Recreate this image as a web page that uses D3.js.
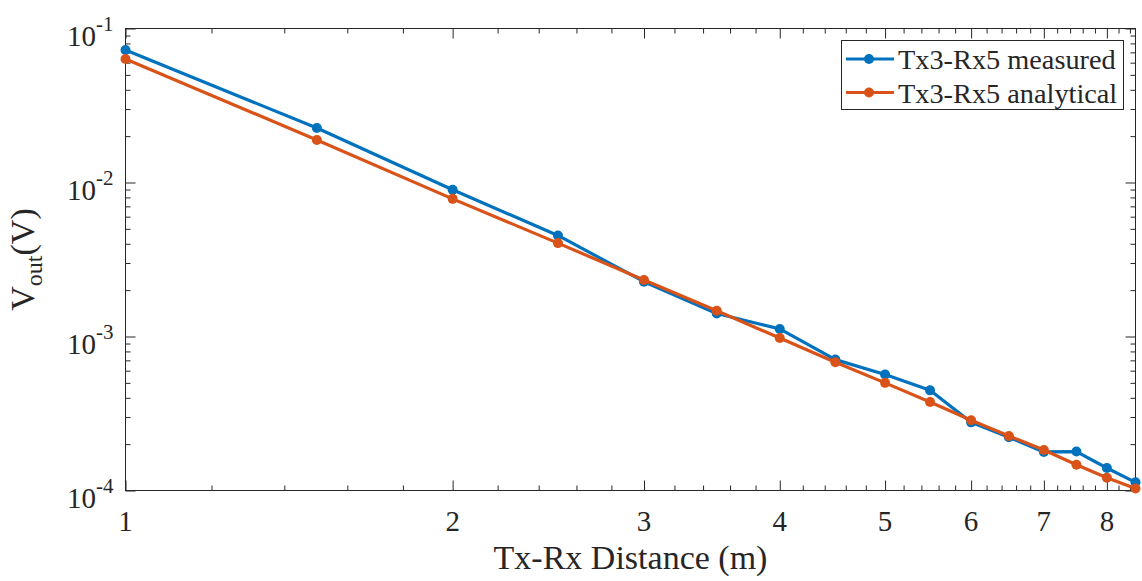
<!DOCTYPE html>
<html>
<head>
<meta charset="utf-8">
<script src="https://cdn.jsdelivr.net/npm/d3@7/dist/d3.min.js"></script>
<style>
  html, body { margin: 0; padding: 0; background: #fff; }
  svg { display: block; }
  text { font-family: "Liberation Serif", "Times New Roman", serif; fill: #262626; }
</style>
</head>
<body>
<svg id="chart" width="1142" height="581"></svg>
<script>
// Tx-Rx distance (m) and received voltage (V)
const distances = [1, 1.5, 2, 2.5, 3, 3.5, 4, 4.5, 5, 5.5, 6, 6.5, 7, 7.5, 8, 8.5];
const measured = [0.0725, 0.0226, 0.00897, 0.00453, 0.00227, 0.00141, 0.00112, 0.000708,
  0.000566, 0.000447, 0.000277, 0.000222, 0.000178, 0.000179, 0.000140, 0.000113];
const analytical = [0.0634, 0.0189, 0.00783, 0.00404, 0.00233, 0.00147, 0.000978, 0.000680,
  0.000500, 0.000376, 0.000286, 0.000226, 0.000183, 0.000147, 0.000121, 0.000103];

const seriesNames = ["Tx3-Rx5 measured", "Tx3-Rx5 analytical"];
const seriesColors = ["#0072BD", "#D95319"];

const xTickValues = [1, 2, 3, 4, 5, 6, 7, 8];
const yTickExponents = [-4, -3, -2, -1];

const svg = d3.select("#chart");
const plotL = 125.5, plotR = 1135.5, plotT = 28.5, plotB = 490.5;

const x = d3.scaleLog().domain([1, 8.5]).range([plotL, plotR]);
const y = d3.scaleLog().domain([1e-4, 1e-1]).range([plotB, plotT]);

// minor tick positions
const xMinor = d3.range(12, 85, 2).map(v => v / 10).filter(v => v % 1 !== 0);
const yMinor = [];
yTickExponents.slice(0, 3).forEach(e => {
  for (let k = 2; k <= 9; k++) yMinor.push(k * Math.pow(10, e));
});

const axisColor = "#262626";
const majorLen = 10, minorLen = 5;

function styleAxis(g) {
  g.select(".domain").remove();
  g.selectAll(".tick line").attr("stroke", axisColor).attr("stroke-width", 1);
  g.selectAll(".tick text").remove();
}

// ticks on all four sides, pointing inward
const axes = svg.append("g");
[[xTickValues, majorLen], [xMinor, minorLen]].forEach(([vals, len]) => {
  axes.append("g").attr("transform", `translate(0,${plotB})`)
    .call(d3.axisBottom(x).tickValues(vals).tickSize(-len).tickFormat(""))
    .call(styleAxis);
  axes.append("g").attr("transform", `translate(0,${plotT})`)
    .call(d3.axisTop(x).tickValues(vals).tickSize(-len).tickFormat(""))
    .call(styleAxis);
});
const yMajor = yTickExponents.map(e => Math.pow(10, e));
[[yMajor, majorLen], [yMinor, minorLen]].forEach(([vals, len]) => {
  axes.append("g").attr("transform", `translate(${plotL},0)`)
    .call(d3.axisLeft(y).tickValues(vals).tickSize(-len).tickFormat(""))
    .call(styleAxis);
  axes.append("g").attr("transform", `translate(${plotR},0)`)
    .call(d3.axisRight(y).tickValues(vals).tickSize(-len).tickFormat(""))
    .call(styleAxis);
});

// axes box
svg.append("rect")
  .attr("x", plotL).attr("y", plotT)
  .attr("width", plotR - plotL).attr("height", plotB - plotT)
  .attr("fill", "none").attr("stroke", axisColor).attr("stroke-width", 1);

// x tick labels
svg.append("g").selectAll("text").data(xTickValues).join("text")
  .attr("x", d => x(d)).attr("y", plotB + 40)
  .attr("text-anchor", "middle").attr("font-size", 29)
  .text(d => d);

// y tick labels: 10 with superscript exponent
const yLab = svg.append("g").selectAll("text").data(yTickExponents).join("text")
  .attr("x", plotL - 12).attr("y", d => y(Math.pow(10, d)) + 17)
  .attr("text-anchor", "end").attr("font-size", 29);
yLab.append("tspan").text("10");
yLab.append("tspan").attr("dy", -15).attr("font-size", 21).text(d => d);

// axis titles
svg.append("text")
  .attr("x", (plotL + plotR) / 2).attr("y", 569)
  .attr("text-anchor", "middle").attr("font-size", 34)
  .text("Tx-Rx Distance (m)");

const yt = svg.append("text")
  .attr("transform", `translate(34,${(plotT + plotB) / 2}) rotate(-90)`)
  .attr("text-anchor", "middle").attr("font-size", 34);
yt.append("tspan").text("V");
yt.append("tspan").attr("dy", 8).attr("font-size", 24).text("out");
yt.append("tspan").attr("dy", -8).text("(V)");

// data series
const line = d3.line().x(d => x(d[0])).y(d => y(d[1]));
[measured, analytical].forEach((vals, i) => {
  const pts = distances.map((d, j) => [d, vals[j]]);
  const g = svg.append("g");
  g.append("path").datum(pts)
    .attr("d", line).attr("fill", "none")
    .attr("stroke", seriesColors[i]).attr("stroke-width", 3.2)
    .attr("stroke-linejoin", "round");
  g.selectAll("circle").data(pts).join("circle")
    .attr("cx", d => x(d[0])).attr("cy", d => y(d[1]))
    .attr("r", 5).attr("fill", seriesColors[i]);
});

// legend
const lg = svg.append("g");
lg.append("rect")
  .attr("x", 841.5).attr("y", 40.5).attr("width", 282).attr("height", 69)
  .attr("fill", "#fff").attr("stroke", axisColor).attr("stroke-width", 1);
seriesNames.forEach((name, i) => {
  const cy = 59 + i * 33.5;
  lg.append("line").attr("x1", 846).attr("x2", 894).attr("y1", cy).attr("y2", cy)
    .attr("stroke", seriesColors[i]).attr("stroke-width", 3.2);
  lg.append("circle").attr("cx", 869).attr("cy", cy).attr("r", 5).attr("fill", seriesColors[i]);
  lg.append("text").attr("x", 898).attr("y", cy + 10).attr("font-size", 28.3).text(name);
});
</script>
</body>
</html>
